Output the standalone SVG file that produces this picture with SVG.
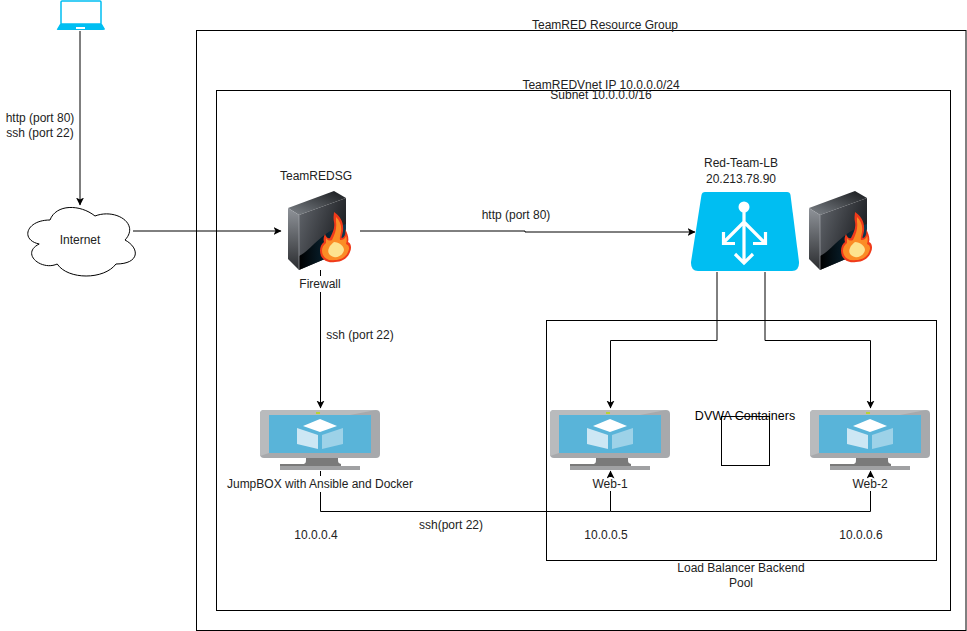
<svg xmlns="http://www.w3.org/2000/svg" width="967" height="631" viewBox="0 0 967 631">
<style>
text{font-family:"Liberation Sans",Arial,sans-serif;font-size:12px;fill:#222;text-anchor:middle}
.box{fill:none;stroke:#000;stroke-width:1}
.c{fill:none;stroke:#000;stroke-width:1}
</style>
<defs>
<marker id="arr" markerWidth="9" markerHeight="9" refX="7.500" refY="4" orient="auto" markerUnits="userSpaceOnUse"><path d="M0 0L8 4L0 8L2 4Z" fill="#000"/></marker>
<linearGradient id="fwTop" x1="0" y1="1" x2="1" y2="0"><stop offset="0" stop-color="#7d8288"/><stop offset="1" stop-color="#17191c"/></linearGradient>
<linearGradient id="fwLeft" x1="0" y1="0" x2="0" y2="1"><stop offset="0" stop-color="#8f9399"/><stop offset="1" stop-color="#2a2c2f"/></linearGradient>
<linearGradient id="fwFront" x1="0" y1="0" x2="1" y2="0.500"><stop offset="0" stop-color="#63676d"/><stop offset="1" stop-color="#1a1c20"/></linearGradient>
<linearGradient id="fwShade" x1="0" y1="0" x2="1" y2="0"><stop offset="0" stop-color="#000"/><stop offset="1" stop-color="#0f3a52"/></linearGradient>
<symbol id="firewall" width="66" height="82" viewBox="0 0 66 82" overflow="visible">
<path d="M0 18L46 1L58 8L11 25Z" fill="url(#fwTop)"/>
<path d="M0 18L11 25V80L0 69Z" fill="url(#fwLeft)"/>
<path d="M11 25L58 8V60L11 80Z" fill="url(#fwFront)"/>
<path d="M11 66C24 60 32 42 58 34V60L11 80Z" fill="url(#fwShade)"/>
<path d="M11 25V80" stroke="#a4a8ae" stroke-width=".7" fill="none"/>
<path d="M46 22C52 26 56 32 55 41C54 46 53 48 54 48C57 47 58 43 57 39C60 44 61 49 60 52C63 53 64 58 62 62C60 68 54 72 47 72C40 73 36 71 33 66C31 61 32 55 36 52C35 49 36 46 37 44C38 47 40 49 42 48C45 42 47 38 46 32C45 28 46 24 46 22Z" fill="#f03a1a"/>
<path d="M48 27C52 31 54 36 53 42C52 47 51 50 53 50C56 50 58 47 58 45C59 48 59 51 58 54C61 55 62 58 60 62C58 67 53 70 47 70C41 71 37 69 35 65C33 61 34 56 38 53C38 51 38 49 38 48C40 51 42 51 44 50C47 44 49 38 48 32Z" fill="#fb8c26"/>
<path d="M46 52C51 52 56 56 56 60C55 65 50 68 46 67C41 66 39 62 41 58C42 55 44 54 46 52Z" fill="#fde38f"/>
</symbol>
<symbol id="monitor" width="120" height="62" viewBox="0 0 120 62" overflow="visible">
<path d="M4 0H116Q120 0 120 4V44Q120 48 116 48H4Q0 48 0 44V4Q0 0 4 0Z" fill="#a7a9ac"/>
<path d="M0 4Q0 0 4 0H116L90 5H9V43L0 46Z" fill="#b9bbbd"/>
<rect x="9" y="5" width="102" height="38" fill="#59b4d9"/>
<path d="M46 48H78C78 52 78 53 81 54V56H20V54H44C46 53 46 52 46 48Z" fill="#7a7a7a"/>
<rect x="20" y="56" width="80" height="4" fill="#a0a1a3"/>
<path d="M60 9L77 16L60 22L43 16Z" fill="#fff"/>
<path d="M37 18L58 25V39L37 34Z" fill="#cde7f4"/>
<path d="M83 18L62 25V39L83 34Z" fill="#9dd2e8"/>
<rect x="56" y="2" width="4" height="2" fill="#b8d432"/>
</symbol>
</defs>
<g id="containers">
<rect id="resource-group" class="box" x="196.500" y="30.500" width="769.500" height="600"/>
<rect id="vnet" class="box" x="216.500" y="90.500" width="734" height="520"/>
<rect id="backend-pool" class="box" x="546.500" y="320.500" width="390" height="240"/>
</g>
<g id="connectors">
<path class="c" d="M80 31V205" marker-end="url(#arr)"/>
<path class="c" d="M133 231H281" marker-end="url(#arr)"/>
<path class="c" d="M360 231H525V232H695" marker-end="url(#arr)"/>
<path class="c" d="M320.500 270V276M320.500 292V408" marker-end="url(#arr)"/>
<path class="c" d="M717 272V340.500H610.500V408" marker-end="url(#arr)"/>
<path class="c" d="M765 272V340.500H870.500V408" marker-end="url(#arr)"/>
<path class="c" d="M320.500 471V476M320.500 492V511.500H610.500V491"/>
<path class="c" d="M610.500 511.500H870.500V491"/>
<path class="c" d="M610.500 477V471" marker-end="url(#arr)"/>
<path class="c" d="M870.500 477V471" marker-end="url(#arr)"/>
</g>
<g id="laptop">
<path d="M61 2Q61 1 62 1H100Q101 1 101 2V24H61Z" fill="#fff" stroke="#00bef2" stroke-width="1.500"/>
<path d="M60 24H102L105 29Q105 30 103 30H59Q56 30 57 29Z" fill="#00bef2"/>
<rect x="76" y="27" width="9" height="2" fill="#fff"/>
</g>
<g id="internet">
<path d="M50 220C26 220 20 240 39.200 244C20 253.600 41.600 271.200 57.200 264C68 280 104 280 116 264C140 264 140 248 125 240C140 224 116 208 95 216C80 204 56 204 50 220Z" fill="#fff" stroke="#000"/>
<text x="80" y="244">Internet</text>
</g>
<g id="firewall-1">
<use href="#firewall" x="288" y="190" width="66" height="82"/>
<text x="316" y="180">TeamREDSG</text>
<text x="320" y="288">Firewall</text>
</g>
<g id="load-balancer">
<path d="M705 192H787Q790 192 790.500 195L799 262Q799.500 271 792 271H698Q690.500 271 691 262L701.500 195Q702 192 705 192Z" fill="#00bef2"/>
<circle cx="744" cy="207" r="5.500" fill="#fff"/>
<path d="M744 207V261M744 222L724 242M744 222L764 242M723.500 232V243.500H735M765.500 232V243.500H753M735 254L744 263L753 254" stroke="#fff" stroke-width="3.200" fill="none"/>
<text x="741" y="167">Red-Team-LB</text>
<text x="741" y="183">20.213.78.90</text>
</g>
<g id="firewall-2"><use href="#firewall" x="809" y="190" width="66" height="82"/></g>
<g id="jumpbox">
<use href="#monitor" x="260" y="410" width="120" height="62"/>
<text x="320" y="488">JumpBOX with Ansible and Docker</text>
</g>
<g id="web-1">
<use href="#monitor" x="550" y="410" width="120" height="62"/>
<text x="610" y="488">Web-1</text>
</g>
<g id="web-2">
<use href="#monitor" x="810" y="410" width="120" height="62"/>
<text x="870" y="488">Web-2</text>
</g>
<g id="dvwa">
<rect class="box" x="721.500" y="416.500" width="48" height="49"/>
<text x="745" y="420" style="font-size:12.500px;fill:#000">DVWA Containers</text>
</g>
<g id="labels">
<text x="605" y="29">TeamRED Resource Group</text>
<text x="601" y="89">TeamREDVnet IP 10.0.0.0/24</text>
<text x="601" y="99">Subnet 10.0.0.0/16</text>
<text x="40" y="122">http (port 80)</text>
<text x="40" y="137">ssh (port 22)</text>
<text x="516" y="219">http (port 80)</text>
<text x="360" y="339">ssh (port 22)</text>
<text x="451" y="529">ssh(port 22)</text>
<text x="316" y="539">10.0.0.4</text>
<text x="606" y="539">10.0.0.5</text>
<text x="861" y="539">10.0.0.6</text>
<text x="741" y="572">Load Balancer Backend</text>
<text x="741" y="587">Pool</text>
</g>
</svg>
